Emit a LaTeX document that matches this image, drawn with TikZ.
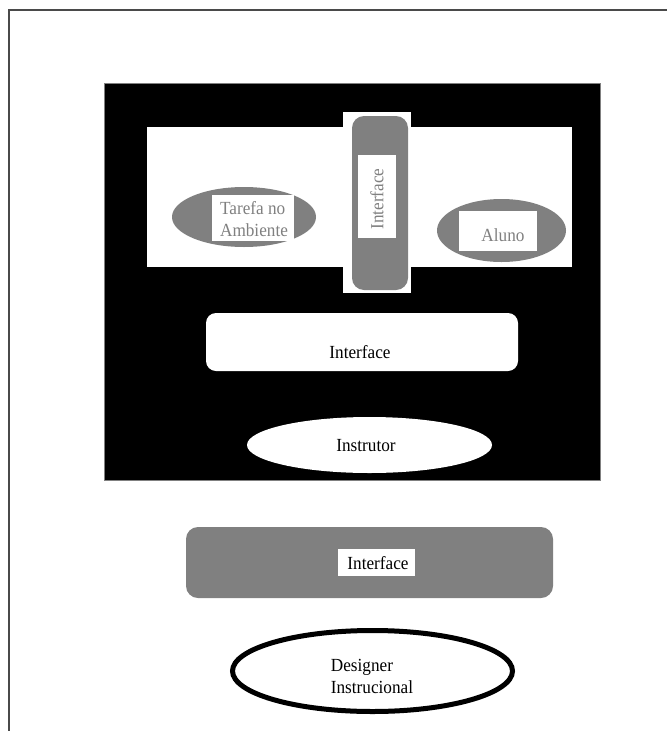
\documentclass[tikz,border=0pt]{standalone}
\usepackage{fontspec}
\setmainfont{Liberation Serif}
\newfontfamily\narrowserif[FakeStretch=0.93]{Liberation Serif}
\usetikzlibrary{shapes.geometric}
\definecolor{midgray}{HTML}{808080}
\definecolor{edgegray}{HTML}{4A4A4A}
\tikzset{
  plain/.style={inner sep=0pt, outer sep=0pt},
  panel/.style={plain, rectangle, fill=black, draw=midgray, line width=0.8pt},
  whitebox/.style={plain, rectangle, fill=white},
  graybar/.style={plain, rectangle, rounded corners=12pt, fill=midgray},
  whitebar/.style={plain, rectangle, rounded corners=10pt, fill=white},
  grayoval/.style={plain, ellipse, fill=midgray},
  whiteoval/.style={plain, ellipse, fill=white},
  ringoval/.style={plain, ellipse, fill=white, draw=black, line width=5pt},
  lbl/.style={plain, font=\narrowserif\fontsize{18.5}{22}\selectfont, text=black},
  graylbl/.style={lbl, text=midgray},
}
\begin{document}
\begin{tikzpicture}[x=1pt, y=-1pt]
  \useasboundingbox (0,0) rectangle (667,731);
  \fill[white] (0,0) rectangle (667,731);
  % page frame (top and left rules)
  \draw[edgegray, line width=1.6pt] (9,731) -- (9,10) -- (667,10);

  % black environment panel
  \node[panel, minimum width=496pt, minimum height=397pt] (env) at (352,281.5) {};
  % white stage inside the panel
  \node[whitebox, minimum width=425pt, minimum height=140pt] (stage) at (359.5,197) {};

  % vertical interface between task and learner
  \node[whitebox, minimum width=68pt, minimum height=181pt] (vback) at (377,202.5) {};
  \node[graybar, minimum width=56pt, minimum height=174pt] (vbar) at (380,203) {};
  \node[whitebox, minimum width=38pt, minimum height=83pt] (vtag) at (377,196.5) {};
  \node[graylbl, rotate=90] (vtext) at (377,199) {Interface};

  % task in the environment
  \node[grayoval, minimum width=144pt, minimum height=60pt] (task) at (244,217) {};
  \node[whitebox, minimum width=82pt, minimum height=46pt] (tasktag) at (253,218) {};
  \node[graylbl, align=left] (tasktext) at (254,219) {Tarefa no\\Ambiente};

  % learner
  \node[grayoval, minimum width=129pt, minimum height=63pt] (learner) at (501.5,230.5) {};
  \node[whitebox, minimum width=78pt, minimum height=40pt] (learnertag) at (498,231) {};
  \node[graylbl] (learnertext) at (503,235) {Aluno};

  % instructor interface and instructor
  \node[whitebar, minimum width=312pt, minimum height=58pt] (ibar) at (362,342) {};
  \node[lbl] (ibartext) at (360,352) {Interface};
  \node[whiteoval, minimum width=245pt, minimum height=56pt] (instr) at (369.5,445) {};
  \node[lbl] (instrtext) at (366,446) {Instrutor};

  % designer interface
  \node[graybar, minimum width=367pt, minimum height=71pt] (dbar) at (369.5,562.5) {};
  \node[whitebox, minimum width=77pt, minimum height=27pt] (dtag) at (376.5,562.5) {};
  \node[lbl] (dbartext) at (378,563) {Interface};

  % instructional designer
  \node[ringoval, minimum width=280pt, minimum height=81pt] (designer) at (372.5,671) {};
  \node[lbl, align=left] (designertext) at (372,676) {Designer\\Instrucional};
\end{tikzpicture}
\end{document}
